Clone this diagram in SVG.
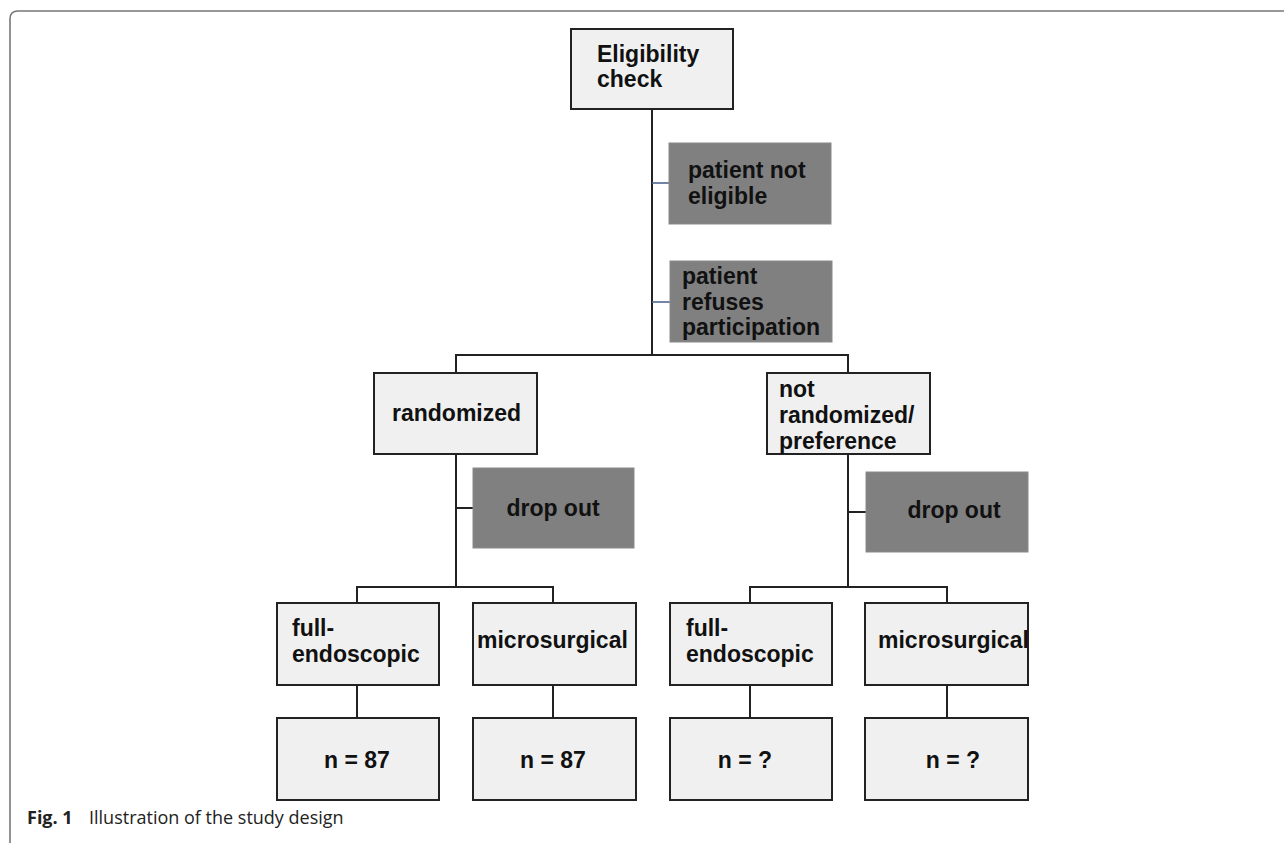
<svg xmlns="http://www.w3.org/2000/svg" width="1284" height="843" viewBox="0 0 1284 843">
<style>
.frame{fill:none;stroke:#777;stroke-width:1.6}
.box{fill:#f0f0f0;stroke:#222;stroke-width:2}
.gbox{fill:#808080;stroke:#8a8a8a;stroke-width:1}
.t{font-family:"Liberation Sans",Arial,sans-serif;font-weight:bold;font-size:23px;fill:#111}
.c{text-anchor:middle}
.ln{fill:none;stroke:#222;stroke-width:2}
.bl{fill:none;stroke:#4f6690;stroke-width:1.6}
.cap{font-family:"Open Sans","Noto Sans",sans-serif;font-size:18px;fill:#222}
</style>
<rect width="1284" height="843" fill="#fff"/>
<path class="frame" d="M10,843 L10,19 Q10,11 18,11 L1284,11"/>
<g id="connectors">
<path class="ln" d="M652,109 V355"/>
<path class="bl" d="M652,183 H669"/>
<path class="bl" d="M652,302 H670"/>
<path class="ln" d="M456,373 V355 H848 V373"/>
<path class="ln" d="M456,454 V587"/>
<path class="ln" d="M456,508 H473"/>
<path class="ln" d="M848,454 V587"/>
<path class="ln" d="M848,512 H866"/>
<path class="ln" d="M357,603 V587 H553 V603"/>
<path class="ln" d="M750,603 V587 H947 V603"/>
<path class="ln" d="M357,685 V718"/>
<path class="ln" d="M553,685 V718"/>
<path class="ln" d="M750,685 V718"/>
<path class="ln" d="M947,685 V718"/>
</g>
<g id="eligibility">
<rect class="box" x="571" y="29" width="162" height="80"/>
<text class="t" x="597" y="62">Eligibility</text>
<text class="t" x="597" y="87">check</text>
</g>
<g id="not-eligible">
<rect class="gbox" x="669" y="143" width="162" height="81"/>
<text class="t" x="688" y="178">patient not</text>
<text class="t" x="688" y="204">eligible</text>
</g>
<g id="refuses">
<rect class="gbox" x="670" y="261" width="162" height="81"/>
<text class="t" x="682" y="284">patient</text>
<text class="t" x="682" y="310">refuses</text>
<text class="t" x="682" y="335">participation</text>
</g>
<g id="randomized">
<rect class="box" x="374" y="373" width="163" height="81"/>
<text class="t" x="392" y="421">randomized</text>
</g>
<g id="not-randomized">
<rect class="box" x="767" y="373" width="163" height="81"/>
<text class="t" x="779" y="397">not</text>
<text class="t" x="779" y="423">randomized/</text>
<text class="t" x="779" y="449">preference</text>
</g>
<g id="dropout-left">
<rect class="gbox" x="473" y="468" width="161" height="80"/>
<text class="t c" x="553" y="516">drop out</text>
</g>
<g id="dropout-right">
<rect class="gbox" x="866" y="472" width="162" height="80"/>
<text class="t c" x="954" y="518">drop out</text>
</g>
<g id="full-endo-left">
<rect class="box" x="277" y="603" width="162" height="82"/>
<text class="t" x="292" y="636">full-</text>
<text class="t" x="292" y="662">endoscopic</text>
</g>
<g id="micro-left">
<rect class="box" x="473" y="603" width="163" height="82"/>
<text class="t" x="477" y="648">microsurgical</text>
</g>
<g id="full-endo-right">
<rect class="box" x="670" y="603" width="162" height="82"/>
<text class="t" x="686" y="636">full-</text>
<text class="t" x="686" y="662">endoscopic</text>
</g>
<g id="micro-right">
<rect class="box" x="865" y="603" width="163" height="82"/>
<text class="t" x="878" y="648">microsurgical</text>
</g>
<g id="n-left-1">
<rect class="box" x="277" y="718" width="162" height="82"/>
<text class="t c" x="357" y="768">n = 87</text>
</g>
<g id="n-left-2">
<rect class="box" x="473" y="718" width="163" height="82"/>
<text class="t c" x="553" y="768">n = 87</text>
</g>
<g id="n-right-1">
<rect class="box" x="670" y="718" width="162" height="82"/>
<text class="t c" x="745" y="768">n = ?</text>
</g>
<g id="n-right-2">
<rect class="box" x="865" y="718" width="163" height="82"/>
<text class="t c" x="953" y="768">n = ?</text>
</g>
<text class="cap" x="27" y="824"><tspan font-weight="bold">Fig. 1</tspan><tspan x="89">Illustration of the study design</tspan></text>
</svg>
